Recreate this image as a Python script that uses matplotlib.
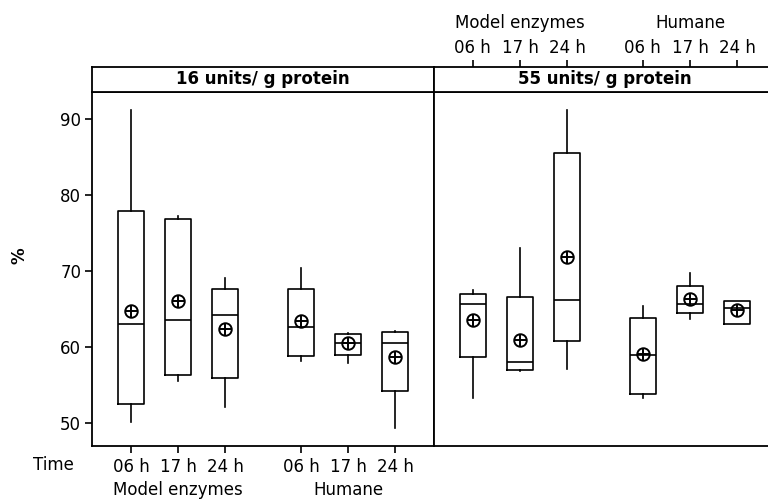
import numpy as np
import matplotlib.pyplot as plt
from matplotlib.transforms import blended_transform_factory

# data (Model enzymes 06/17/24 h, Humane 06/17/24 h)
times = ["06 h", "17 h", "24 h", "06 h", "17 h", "24 h"]
groups = ["Model enzymes", "Humane"]
panels = ["16 units/ g protein", "55 units/ g protein"]

whislo_16 = [50.2, 55.5, 52.2, 58.2, 57.9, 49.4]
q1_16 = [52.5, 56.4, 56.0, 58.8, 59.0, 54.3]
med_16 = [63.0, 63.6, 64.3, 62.6, 60.55, 60.55]
q3_16 = [77.9, 76.8, 67.6, 67.6, 61.7, 62.0]
whishi_16 = [91.2, 77.2, 69.1, 70.4, 61.9, 62.2]
mean_16 = [64.8, 66.1, 62.4, 63.4, 60.5, 58.75]

whislo_55 = [53.3, 56.9, 57.2, 53.3, 63.7, 63.05]
q1_55 = [58.7, 57.0, 60.8, 53.9, 64.5, 63.05]
med_55 = [65.7, 58.0, 66.2, 59.0, 65.7, 65.1]
q3_55 = [67.0, 66.6, 85.5, 63.8, 68.0, 66.1]
whishi_55 = [67.5, 73.0, 91.2, 65.4, 69.8, 66.1]
mean_55 = [63.6, 61.0, 71.8, 59.1, 66.4, 64.9]

pos = [1, 2, 3, 4.6, 5.6, 6.6]
xlim = (0.18, 7.42)
ylim = (47.02, 93.55)

W, H = 768, 500
fs = 12

fig = plt.figure(figsize=(W / 100, H / 100), dpi=100)


def px(l, t, r, b):
    return [l / W, 1 - b / H, (r - l) / W, (b - t) / H]


def make_stats(lo, q1, med, q3, hi, mean):
    return [dict(whislo=lo[i], q1=q1[i], med=med[i], q3=q3[i], whishi=hi[i],
                 mean=mean[i], fliers=[]) for i in range(len(lo))]


lw = 1.2
ax1 = fig.add_axes(px(92.3, 92, 434, 446))
ax2 = fig.add_axes(px(434, 92, 776, 446))
s1 = fig.add_axes(px(92.3, 67, 434, 92))
s2 = fig.add_axes(px(434, 67, 776, 92))

data = [(whislo_16, q1_16, med_16, q3_16, whishi_16, mean_16),
        (whislo_55, q1_55, med_55, q3_55, whishi_55, mean_55)]

for ax, d in zip([ax1, ax2], data):
    stats = make_stats(*d)
    ax.bxp(stats, positions=pos, widths=0.55, showcaps=False, showfliers=False,
           boxprops=dict(color="black", linewidth=lw),
           whiskerprops=dict(color="black", linewidth=lw),
           medianprops=dict(color="black", linewidth=lw))
    ax.plot(pos, d[5], "o", ms=9, mfc="none", mec="black", mew=1.4, ls="none")
    ax.plot(pos, d[5], "+", ms=9, mec="black", mew=1.4, ls="none")
    ax.set_xlim(*xlim)
    ax.set_ylim(*ylim)
    for sp in ax.spines.values():
        sp.set_linewidth(1.3)

ax1.set_yticks([50, 60, 70, 80, 90])
ax1.tick_params(axis="y", direction="out", length=5, width=1.2, labelsize=fs, pad=3)
ax1.set_xticks(pos)
ax1.set_xticklabels(times)
ax1.tick_params(axis="x", direction="out", length=5, width=1.2, labelsize=fs, pad=4)
ax1.set_ylabel("%", fontsize=fs, fontweight="bold")
ax1.yaxis.set_label_coords(-0.188, 0.537)

ax2.set_xticks([])
ax2.set_yticks([])

for s, title in zip([s1, s2], panels):
    s.set_xlim(*xlim)
    s.set_yticks([])
    s.set_xticks([])
    for sp in s.spines.values():
        sp.set_linewidth(1.3)
    s.text(0.5, 0.5, title, transform=s.transAxes, ha="center", va="center",
           fontsize=fs, fontweight="bold")

s2.xaxis.set_ticks_position("top")
s2.set_xticks(pos)
s2.set_xticklabels(times)
s2.tick_params(axis="x", direction="out", length=5, width=1.2, labelsize=fs, pad=2)

# group labels
tr1 = blended_transform_factory(ax1.transData, fig.transFigure)
tr2 = blended_transform_factory(s2.transData, fig.transFigure)
for g, x in zip(groups, [pos[1], pos[4]]):
    ax1.text(x, 1 - 490 / H, g, transform=tr1, ha="center", va="center", fontsize=fs)
    s2.text(x, 1 - 23 / H, g, transform=tr2, ha="center", va="center", fontsize=fs)

fig.text(53 / W, 1 - 465 / H, "Time", ha="center", va="center", fontsize=fs)

fig.savefig("out.png", dpi=100)
